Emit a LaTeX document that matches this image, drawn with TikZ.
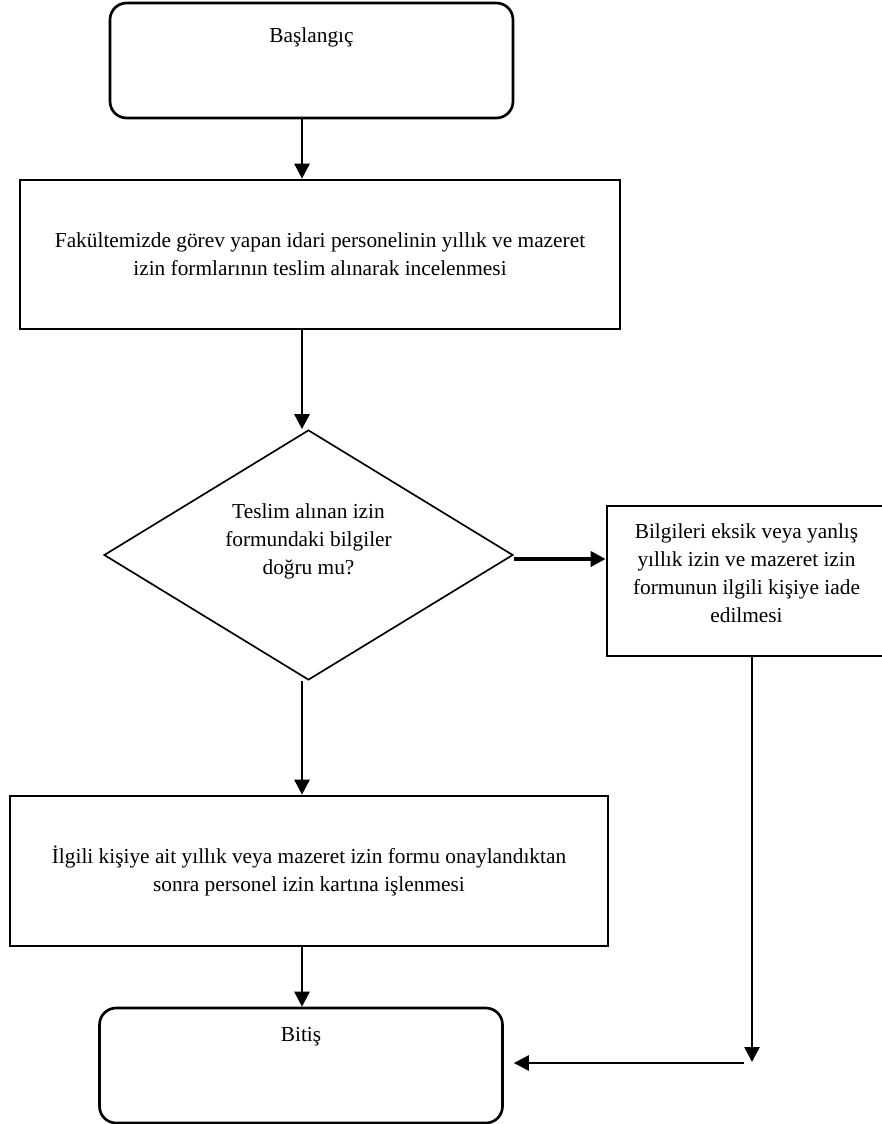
\documentclass[tikz,border=0pt]{standalone}
\usepackage{fontspec}
\setmainfont{Liberation Serif}
\usetikzlibrary{shapes.geometric,arrows.meta}

\begin{document}
\begin{tikzpicture}[x=0.6pt,y=-0.6pt,
    txt/.style={font=\fontsize{12.8}{16.8}\selectfont, align=center},
    terminal/.style={draw, line width=1.6pt, rounded corners=10pt, inner sep=0pt,
        minimum width=241.8pt, minimum height=69pt},
    process/.style={draw, line width=1.6pt, inner sep=0pt, txt},
    decision/.style={draw, diamond, line width=1pt, inner sep=0pt,
        minimum width=245.4pt, minimum height=150pt},
    arr/.style={-{Triangle[length=9pt,width=9pt]}, line width=1.6pt}]

    % Page frame
    \useasboundingbox (0,0) rectangle (882,1124);

    % Start and end
    \node[terminal, label={[txt, yshift=14.1pt]center:Başlangıç}] (start) at (311.5,60.5) {};
    \node[terminal, label={[txt, yshift=17.1pt]center:Bitiş}] (finish) at (301,1065.5) {};

    % Process boxes
    \node[process, minimum width=360pt, minimum height=89.4pt] (receive) at (320,254.5)
        {Fakültemizde görev yapan idari personelinin yıllık ve mazeret\\izin formlarının teslim alınarak incelenmesi};
    \node[process, minimum width=358.8pt, minimum height=90pt] (record) at (309,871)
        {İlgili kişiye ait yıllık veya mazeret izin formu onaylandıktan\\sonra personel izin kartına işlenmesi};
    \node[process, minimum width=167.4pt, minimum height=90pt,
        label={[txt, yshift=4.8pt]center:{Bilgileri eksik veya yanlış\\yıllık izin ve mazeret izin\\formunun ilgili kişiye iade\\edilmesi}}]
        (giveback) at (746.5,581) {};

    % Decision
    \node[decision, label={[txt, yshift=8.4pt]center:{Teslim alınan izin\\formundaki bilgiler\\doğru mu?}}]
        (check) at (308.5,555) {};

    % Helper points
    \coordinate (spine) at (302,0);
    \coordinate (drop) at (752,1062);
    \coordinate (ret) at (744,1063);

    % Arrows
    \draw[arr] (start.south -| spine) -- (receive.north -| spine);
    \draw[arr] (receive.south -| spine) -- (check.north -| spine);
    \draw[arr] (check.south -| spine) -- (record.north -| spine);
    \draw[arr] (record.south -| spine) -- (finish.north -| spine);
    \draw[arr, line width=2.2pt] ([yshift=-2.4pt]check.east) -- ([yshift=-2.4pt]check.east -| giveback.west);
    \draw[arr] (giveback.south -| drop) -- (drop);
    \draw[arr, shorten >=6pt] (ret) -- (ret -| finish.east);

\end{tikzpicture}
\end{document}
